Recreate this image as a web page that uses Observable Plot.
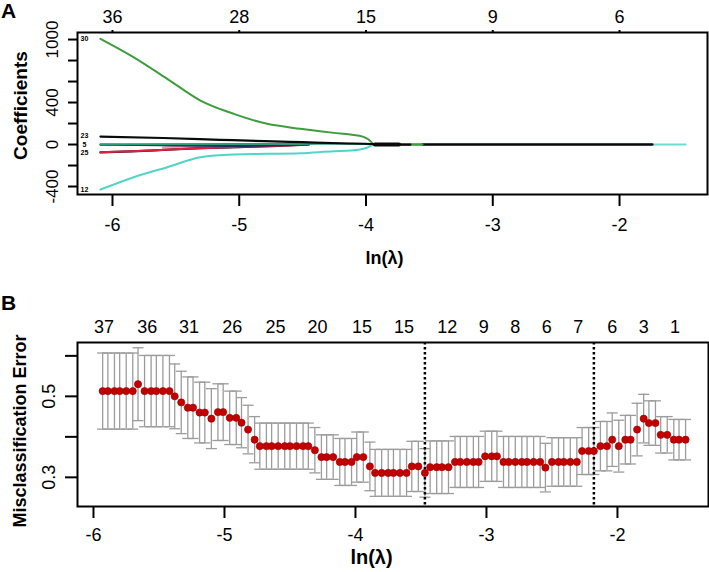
<!DOCTYPE html>
<html><head><meta charset="utf-8">
<script src="https://cdn.jsdelivr.net/npm/d3@7"></script>
<script src="https://cdn.jsdelivr.net/npm/@observablehq/plot@0.6"></script>
<style>
body{margin:0;background:#fff;font-family:"Liberation Sans",Arial,sans-serif;}
#wrap{position:relative;width:709px;height:572px;overflow:hidden;}
#a{position:absolute;left:0;top:0;}
#b{position:absolute;left:0;top:280px;}
.pl{position:absolute;font-weight:bold;font-size:21px;line-height:1;}
</style></head><body>
<div id="wrap"><div id="a"></div><div id="b"></div>
<div class="pl" style="left:1px;top:0px">A</div>
<div class="pl" style="left:1px;top:292px">B</div></div>
<script>
// ---------- Panel A: coefficient paths ----------
const xTicksA = [-6, -5, -4, -3, -2];
const topLabA = ["36", "28", "15", "9", "6"];
const yTicksA = [-400, -200, 0, 200, 400, 600, 800, 1000];
const yTickLabA = ["-400", "", "0", "", "400", "", "", "1000"];

const green30X = [-6.095, -5.832, -5.568, -5.306, -5.043, -4.78, -4.517, -4.254, -4.122, -4.02, -3.98, -3.94];
const green30Y = [1007, 831, 626, 419, 292, 197, 150, 111, 95, 73, 48, 0];
const greenTailX = [-3.94, -3.556];
const greenTailY = [0, 0];
const cyan12X = [-6.095, -5.832, -5.568, -5.306, -5.043, -4.78, -4.517, -4.254, -4.122, -4.02, -3.94];
const cyan12Y = [-429, -311, -216, -121, -95, -89, -83, -64, -58, -41, 0];
const cyanTailX = [-3.94, -1.479];
const cyanTailY = [0, 0];
const black23X = [-6.095, -5.6, -5.15, -4.8, -4.5, -4.2, -3.95, -3.92, -3.65];
const black23Y = [76, 62, 45, 32, 22, 12, 5, 0, 0];
const blackHeavyX = [-3.93, -3.74];
const blackHeavyY = [0, 0];
const blackLastX = [-3.556, -1.742];
const blackLastY = [0, 0];
const tealX = [-6.095, -5.9, -5.0, -4.5, -4.25, -4.0, -3.93];
const tealY = [3, 3, 4, 6, 8, 5, 0];
const navyX = [-6.095, -5.6, -5.3, -5.0, -4.7, -4.45];
const navyY = [-2, -8, -12, -14, -8, 0];
const redX = [-6.095, -5.8, -5.5, -5.25, -5.0, -4.75, -4.5];
const redY = [-73, -62, -46, -32, -22, -14, -5];
const darkX = [-6.095, -5.85, -5.6, -5.3, -5.0, -4.7, -4.45];
const darkY = [-75, -65, -52, -35, -24, -14, 0];
const pinkX = [-5.6, -5.3, -5.0, -4.8, -4.6];
const pinkY = [-30, -24, -18, -10, -3];
const pathLabels = ["30", "23", "5", "25", "12"];
const pathLabelY = [1007, 80, 2, -76, -429];

// ---------- Panel B: cross-validation ----------
const lnLambdaB = [
 -5.93,-5.89,-5.84,-5.80,-5.75,-5.70,-5.66,-5.61,-5.56,-5.52,
 -5.47,-5.42,-5.38,-5.33,-5.28,-5.24,-5.19,-5.15,-5.10,-5.05,
 -5.01,-4.96,-4.91,-4.87,-4.82,-4.77,-4.73,-4.68,-4.64,-4.59,
 -4.54,-4.50,-4.45,-4.40,-4.36,-4.31,-4.26,-4.22,-4.17,-4.12,
 -4.08,-4.03,-3.99,-3.94,-3.89,-3.85,-3.80,-3.75,-3.71,-3.66,
 -3.61,-3.57,-3.52,-3.47,-3.43,-3.38,-3.34,-3.29,-3.24,-3.20,
 -3.15,-3.10,-3.06,-3.01,-2.96,-2.92,-2.87,-2.83,-2.78,-2.73,
 -2.69,-2.64,-2.59,-2.55,-2.50,-2.45,-2.41,-2.36,-2.31,-2.27,
 -2.22,-2.18,-2.13,-2.08,-2.04,-1.99,-1.94,-1.90,-1.85,-1.80,
 -1.76,-1.71,-1.67,-1.62,-1.57,-1.53,-1.48];
const cvError = [
 .513,.513,.513,.513,.513,.513,.530,.513,.513,.513,
 .513,.513,.500,.485,.472,.472,.460,.460,.445,.461,
 .461,.447,.447,.435,.418,.393,.377,.377,.377,.377,
 .377,.377,.377,.377,.377,.367,.350,.350,.350,.338,
 .338,.338,.350,.350,.327,.311,.311,.311,.311,.311,
 .311,.327,.327,.311,.325,.325,.325,.325,.338,.338,
 .338,.338,.338,.352,.352,.352,.338,.338,.338,.338,
 .338,.338,.338,.324,.338,.338,.338,.338,.338,.365,
 .365,.365,.377,.377,.393,.377,.393,.393,.418,.445,
 .434,.434,.405,.405,.393,.393,.393];
const cvSd = [
 .094,.094,.094,.094,.094,.094,.090,.088,.088,.088,
 .088,.088,.080,.077,.076,.076,.075,.075,.074,.070,
 .070,.066,.066,.062,.060,.057,.057,.057,.057,.057,
 .057,.057,.057,.057,.057,.056,.055,.055,.055,.058,
 .058,.058,.062,.062,.060,.058,.058,.058,.058,.058,
 .058,.062,.062,.060,.065,.065,.065,.065,.063,.063,
 .063,.063,.063,.062,.062,.062,.063,.063,.063,.063,
 .063,.063,.063,.060,.060,.060,.060,.060,.060,.058,
 .058,.058,.061,.061,.066,.064,.060,.060,.065,.060,
 .055,.055,.045,.045,.050,.050,.050];
const lambdaMinIndex = 53;
const lambda1seIndex = 81;
const topTickPosB = [-5.92,-5.59,-5.27,-4.94,-4.61,-4.29,-3.95,-3.63,-3.30,-3.02,-2.78,-2.54,-2.30,-2.04,-1.80,-1.56];
const topTickLabB = ["37","36","31","26","25","20","15","15","12","9","8","6","7","6","3","1"];
const xTicksB = [-6, -5, -4, -3, -2];
const yTicksB = [0.3, 0.4, 0.5, 0.6];
const yTickLabB = ["0.3", "", "0.5", ""];

// ---------- helpers ----------
const FONT = "'Liberation Sans', Arial, Helvetica, sans-serif";
const pts = (xs, ys) => xs.map((x, i) => ({x, y: ys[i]}));
const pathLine = (xs, ys, stroke, w = 2, curve = "monotone-x") =>
  Plot.line(pts(xs, ys), {x: "x", y: "y", stroke, strokeWidth: w, curve});

// ---------- Plot A ----------
const topMapA = new Map(xTicksA.map((v, i) => [v, topLabA[i]]));
const yLabRowsA = yTicksA.map((v, i) => ({v, t: yTickLabA[i]}));
const labelRowsA = pathLabels.map((t, i) => ({t, y: pathLabelY[i], x: -6.221}));

const plotA = Plot.plot({
  width: 709, height: 280,
  marginLeft: 77, marginRight: 2, marginTop: 32, marginBottom: 86,
  x: {domain: [-6.276, -1.306]},
  y: {domain: [-476, 1067]},
  style: {fontFamily: FONT, fontSize: "18px", color: "#000", background: "#fff"},
  marks: [
    pathLine(pinkX, pinkY, "#f2a0a8", 3),
    pathLine(darkX, darkY, "#151530", 2.2),
    pathLine(redX, redY, "#e3203a", 2),
    pathLine(navyX, navyY, "#1c2a6a", 2),
    pathLine(tealX, tealY, "#2e9a78", 2),
    pathLine(cyanTailX, cyanTailY, "#6fdcd2", 2, "linear"),
    pathLine(cyan12X, cyan12Y, "#52d4c8", 2),
    pathLine(blackLastX, blackLastY, "#0a0a0a", 2.6, "linear"),
    pathLine(greenTailX, greenTailY, "#3f9c3f", 2.4, "linear"),
    pathLine(green30X, green30Y, "#3f9c3f", 2),
    pathLine(black23X, black23Y, "#0a0a0a", 2.2),
    pathLine(blackHeavyX, blackHeavyY, "#0a0a0a", 4, "linear"),
    Plot.text(labelRowsA, {x: "x", y: "y", text: "t", fontSize: 7, fontWeight: "bold", textAnchor: "middle"}),
    Plot.frame({stroke: "#000", strokeWidth: 2}),
    Plot.axisX({anchor: "bottom", ticks: xTicksA, tickSize: 12, tickPadding: 12, strokeWidth: 2,
      tickFormat: d => String(d), label: null}),
    Plot.axisX({anchor: "top", ticks: xTicksA, tickSize: 3, tickPadding: 7, strokeWidth: 2,
      tickFormat: d => topMapA.get(d), label: null}),
    Plot.axisY({anchor: "left", ticks: yTicksA, tickSize: 9, strokeWidth: 2, tickFormat: () => "", label: null}),
    Plot.text(yLabRowsA, {y: "v", text: "t", frameAnchor: "left", dx: -25, rotate: -90, textAnchor: "middle", fontSize: 17}),
    Plot.text(["Coefficients"], {frameAnchor: "left", dx: -57, dy: -8, rotate: -90, textAnchor: "middle", fontWeight: "bold", fontSize: 19}),
    Plot.text(["ln(λ)"], {frameAnchor: "bottom", dx: -8, dy: 69, lineAnchor: "bottom", textAnchor: "middle", fontWeight: "bold", fontSize: 18})
  ]
});
document.getElementById("a").appendChild(plotA);

// ---------- Plot B ----------
const rowsB = lnLambdaB.map((x, i) => ({x, m: cvError[i], lo: cvError[i] - cvSd[i], hi: cvError[i] + cvSd[i]}));
const topMapB = new Map(topTickPosB.map((v, i) => [v, topTickLabB[i]]));
const yLabRowsB = yTicksB.map((v, i) => ({v, t: yTickLabB[i]}));
const capSymbol = {draw(ctx) { ctx.moveTo(-5.5, 0); ctx.lineTo(5.5, 0); }};
const vlines = [lnLambdaB[lambdaMinIndex], lnLambdaB[lambda1seIndex]];

const plotB = Plot.plot({
  width: 709, height: 292,
  marginLeft: 77, marginRight: 1, marginTop: 62, marginBottom: 66,
  x: {domain: [-6.122, -1.305]},
  y: {domain: [0.228, 0.633]},
  style: {fontFamily: FONT, fontSize: "18px", color: "#000", background: "#fff"},
  marks: [
    Plot.ruleX(rowsB, {x: "x", y1: "lo", y2: "hi", stroke: "#9c9c9c", strokeWidth: 1.3}),
    Plot.dot(rowsB, {x: "x", y: "hi", symbol: capSymbol, r: 4, fill: "none", stroke: "#9c9c9c", strokeWidth: 1.3}),
    Plot.dot(rowsB, {x: "x", y: "lo", symbol: capSymbol, r: 4, fill: "none", stroke: "#9c9c9c", strokeWidth: 1.3}),
    Plot.ruleX(vlines, {stroke: "#000", strokeWidth: 2.5, strokeDasharray: "2.5,2.5"}),
    Plot.dot(rowsB, {x: "x", y: "m", r: 3.6, fill: "#c30000", stroke: "#9a0000", strokeWidth: 0.6}),
    Plot.frame({stroke: "#000", strokeWidth: 2}),
    Plot.axisX({anchor: "bottom", ticks: xTicksB, tickSize: 12, tickPadding: 10, strokeWidth: 2,
      tickFormat: d => String(d), label: null}),
    Plot.axisX({anchor: "top", ticks: topTickPosB, tickSize: 0, tickPadding: 10,
      tickFormat: d => topMapB.get(d), label: null}),
    Plot.axisY({anchor: "left", ticks: yTicksB, tickSize: 12, strokeWidth: 2, tickFormat: () => "", label: null}),
    Plot.text(yLabRowsB, {y: "v", text: "t", frameAnchor: "left", dx: -28, rotate: -90, textAnchor: "middle", fontSize: 18}),
    Plot.text(["Misclassification Error"], {frameAnchor: "left", dx: -57, dy: 6.5, rotate: -90, textAnchor: "middle", fontWeight: "bold", fontSize: 18}),
    Plot.text(["ln(λ)"], {frameAnchor: "bottom", dx: -21.5, dy: 57, lineAnchor: "bottom", textAnchor: "middle", fontWeight: "bold", fontSize: 20})
  ]
});
document.getElementById("b").appendChild(plotB);
</script>
</body></html>
